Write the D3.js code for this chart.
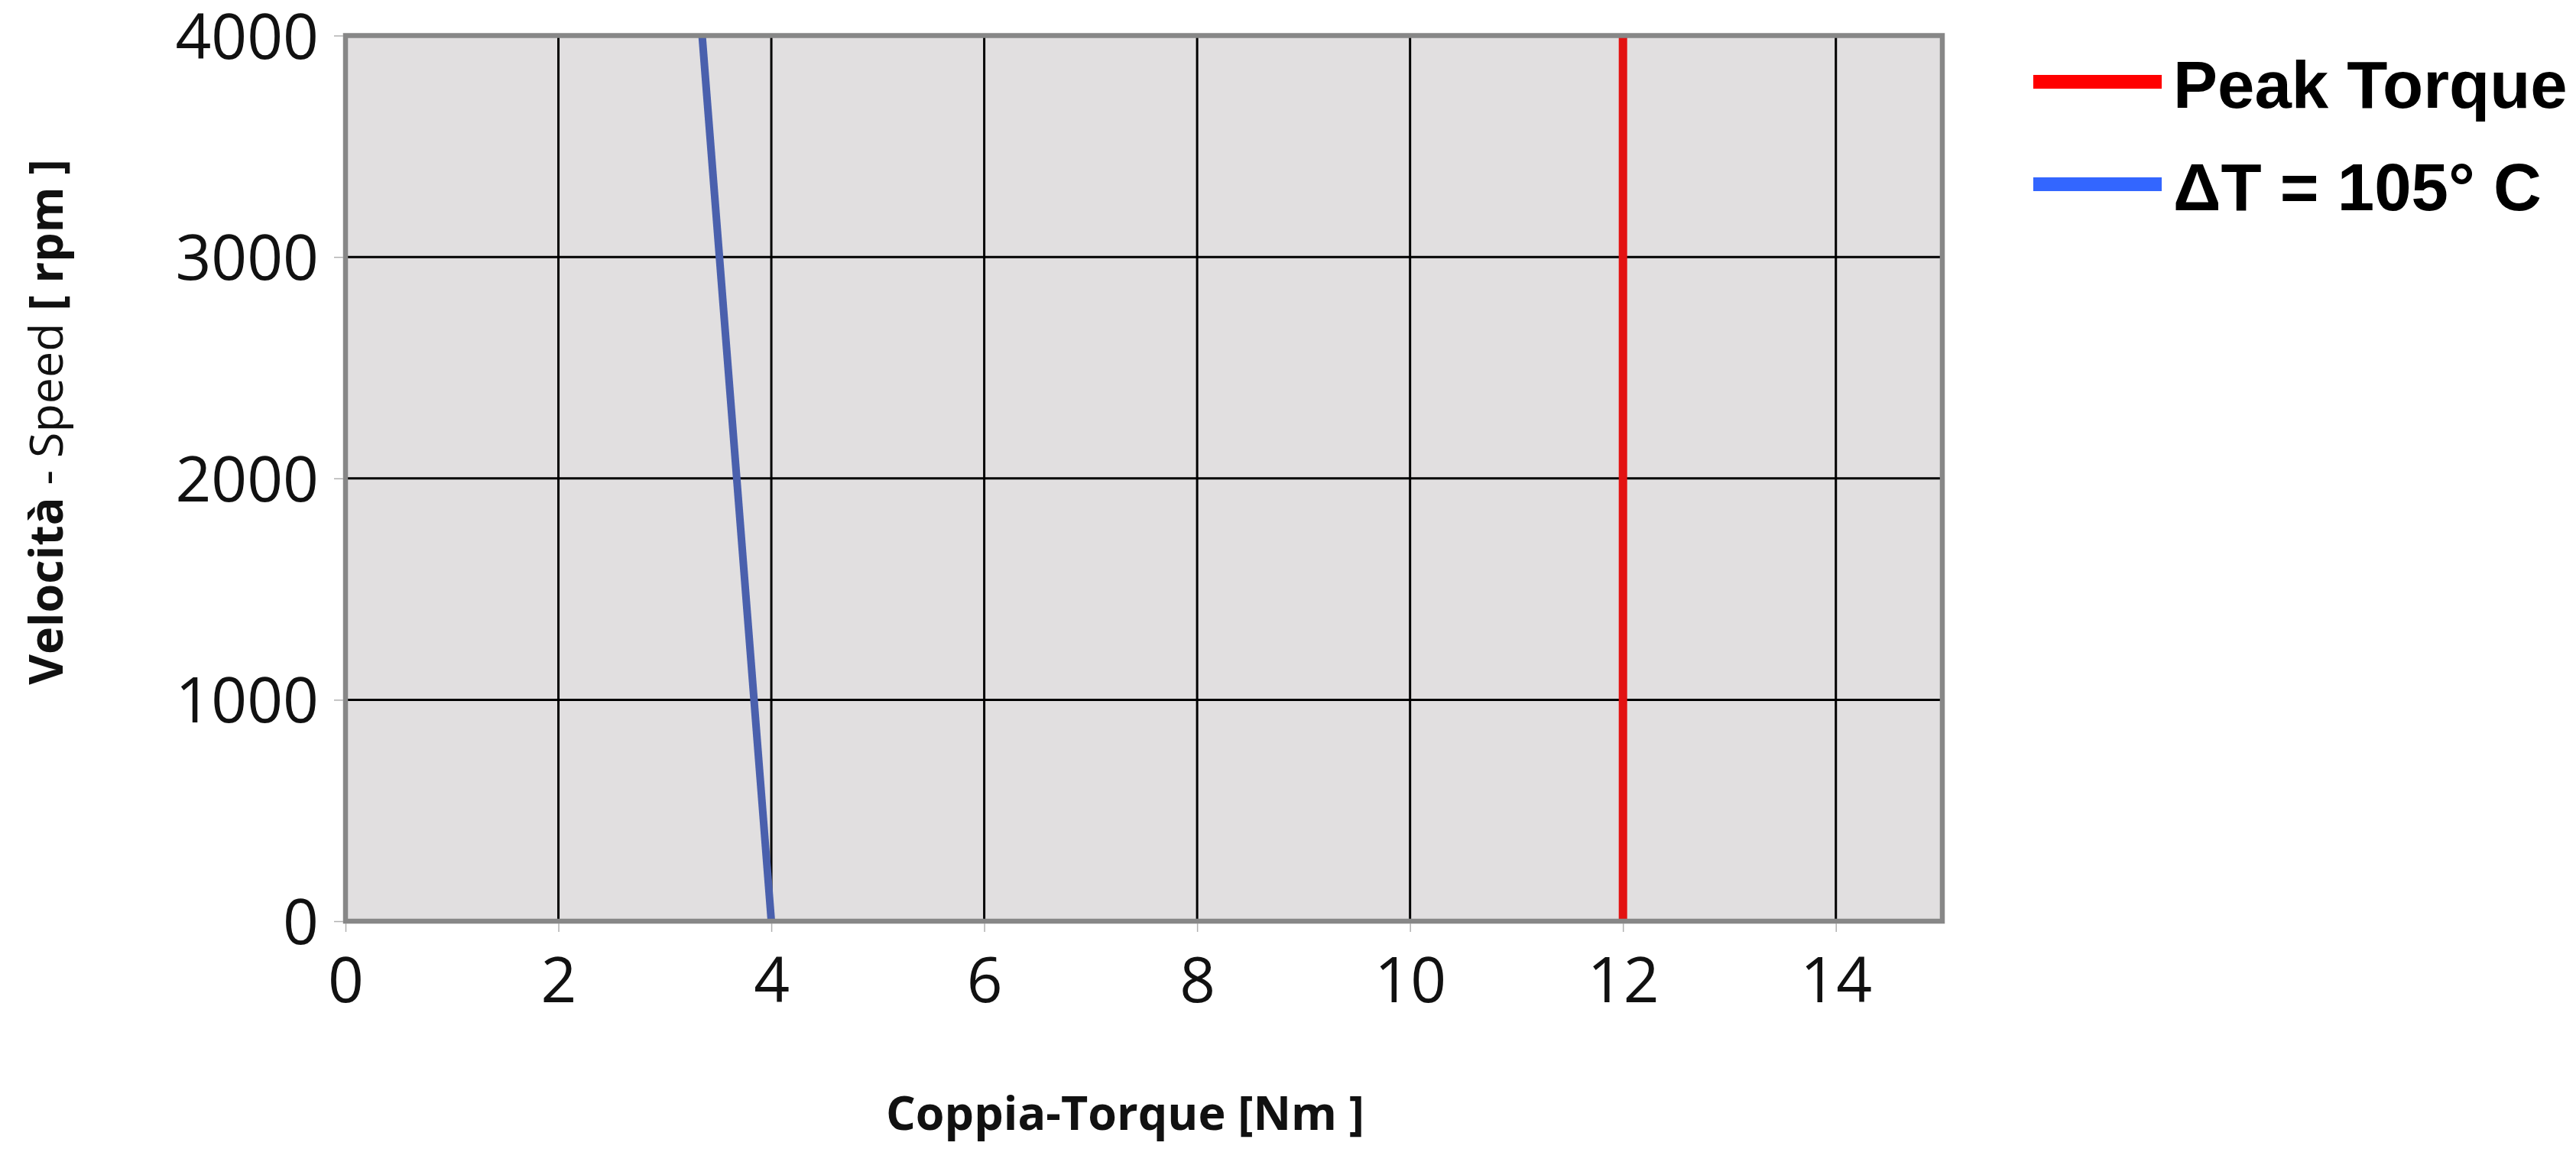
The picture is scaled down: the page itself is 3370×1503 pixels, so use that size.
<!DOCTYPE html>
<html>
<head>
<meta charset="utf-8">
<script src="https://cdn.jsdelivr.net/npm/d3@7"></script>
<style>
  html, body { margin: 0; padding: 0; background: #ffffff; }
  svg { display: block; }
</style>
</head>
<body>
<svg id="chart" width="3370" height="1503"></svg>
<script>
// ---- data ----
const xTicks = [0, 2, 4, 6, 8, 10, 12, 14];
const yTicks = [0, 1000, 2000, 3000, 4000];
const xDomain = [0, 15];
const yDomain = [0, 4000];
const peakTorque = [ {torque: 12, speed: 0}, {torque: 12, speed: 4000} ];
const continuousTorque = [ {torque: 4.0, speed: 0}, {torque: 3.35, speed: 4000} ];
const seriesNames = ["Peak Torque", "\u0394T = 105\u00B0 C"];
const xTitle = "Coppia-Torque [Nm ]";

// ---- layout ----
const svg = d3.select("#chart");
const plot = {left: 452, right: 2541, top: 46.5, bottom: 1205};
const x = d3.scaleLinear().domain(xDomain).range([plot.left, plot.right]);
const y = d3.scaleLinear().domain(yDomain).range([plot.bottom, plot.top]);

svg.append("rect").attr("width", 3370).attr("height", 1503).attr("fill", "#ffffff");

// plot background
svg.append("rect")
  .attr("x", plot.left).attr("y", plot.top)
  .attr("width", plot.right - plot.left).attr("height", plot.bottom - plot.top)
  .attr("fill", "#e1dfe0");

// gridlines
const grid = svg.append("g");
grid.selectAll("line.v").data(xTicks.filter(d => d > 0)).enter().append("line")
  .attr("x1", d => x(d)).attr("x2", d => x(d))
  .attr("y1", plot.top).attr("y2", plot.bottom)
  .attr("stroke", "#000").attr("stroke-width", 3);
grid.selectAll("line.h").data(yTicks.filter(d => d > 0 && d < 4000)).enter().append("line")
  .attr("x1", plot.left).attr("x2", plot.right)
  .attr("y1", d => y(d)).attr("y2", d => y(d))
  .attr("stroke", "#000").attr("stroke-width", 3);

// clip
svg.append("clipPath").attr("id", "clip").append("rect")
  .attr("x", plot.left).attr("y", plot.top)
  .attr("width", plot.right - plot.left).attr("height", plot.bottom - plot.top);

const line = d3.line().x(d => x(d.torque)).y(d => y(d.speed));
const lines = svg.append("g").attr("clip-path", "url(#clip)");
lines.append("path").datum(continuousTorque).attr("d", line)
  .attr("fill", "none").attr("stroke", "#4a60ad").attr("stroke-width", 10);
lines.append("path").datum(peakTorque).attr("d", line)
  .attr("fill", "none").attr("stroke", "#e31212").attr("stroke-width", 11);

// frame
svg.append("rect")
  .attr("x", plot.left).attr("y", plot.top)
  .attr("width", plot.right - plot.left).attr("height", plot.bottom - plot.top)
  .attr("fill", "none").attr("stroke", "#878787").attr("stroke-width", 6.5);

// axes
const yAxis = svg.append("g").attr("transform", "translate(449,0)")
  .call(d3.axisLeft(y).tickValues(yTicks).tickSize(12).tickPadding(20).tickFormat(d3.format("d")));
const xAxis = svg.append("g").attr("transform", "translate(0,1208)")
  .call(d3.axisBottom(x).tickValues(xTicks).tickSize(11).tickPadding(34).tickFormat(d3.format("d")));
[yAxis, xAxis].forEach(a => {
  a.select(".domain").remove();
  a.selectAll(".tick line").attr("stroke", "#b0b0b0").attr("stroke-width", 1.5);
  a.selectAll(".tick text")
    .attr("fill", "#111")
    .style("font-family", "'Open Sans', sans-serif")
    .style("font-size", "82px");
});
yAxis.selectAll(".tick text").attr("dy", "0.36em");

// axis titles
svg.append("text")
  .attr("x", 1472).attr("y", 1478)
  .attr("text-anchor", "middle")
  .style("font-family", "'Open Sans', sans-serif")
  .style("font-size", "61px").style("font-weight", "bold")
  .attr("fill", "#111")
  .text(xTitle);

const yt = svg.append("text")
  .attr("transform", "translate(82,552) rotate(-90)")
  .attr("text-anchor", "middle")
  .style("font-family", "'Open Sans', sans-serif")
  .style("font-size", "61px")
  .attr("fill", "#111");
yt.append("tspan").style("font-weight", "bold").text("Velocità");
yt.append("tspan").style("font-weight", "normal").text(" - Speed ");
yt.append("tspan").style("font-weight", "bold").text("[ rpm ]");

// legend
const legendColors = ["#ff0000", "#3366ff"];
const legendY = [107, 241];
const lg = svg.append("g");
seriesNames.forEach((name, i) => {
  lg.append("line")
    .attr("x1", 2660).attr("x2", 2828)
    .attr("y1", legendY[i]).attr("y2", legendY[i])
    .attr("stroke", legendColors[i]).attr("stroke-width", 18);
  lg.append("text")
    .attr("x", 2843).attr("y", legendY[i] + 34)
    .style("font-family", "'Liberation Sans', Arial, sans-serif")
    .style("font-size", "87px").style("font-weight", "bold")
    .attr("fill", "#000")
    .text(name);
});
</script>
</body>
</html>
